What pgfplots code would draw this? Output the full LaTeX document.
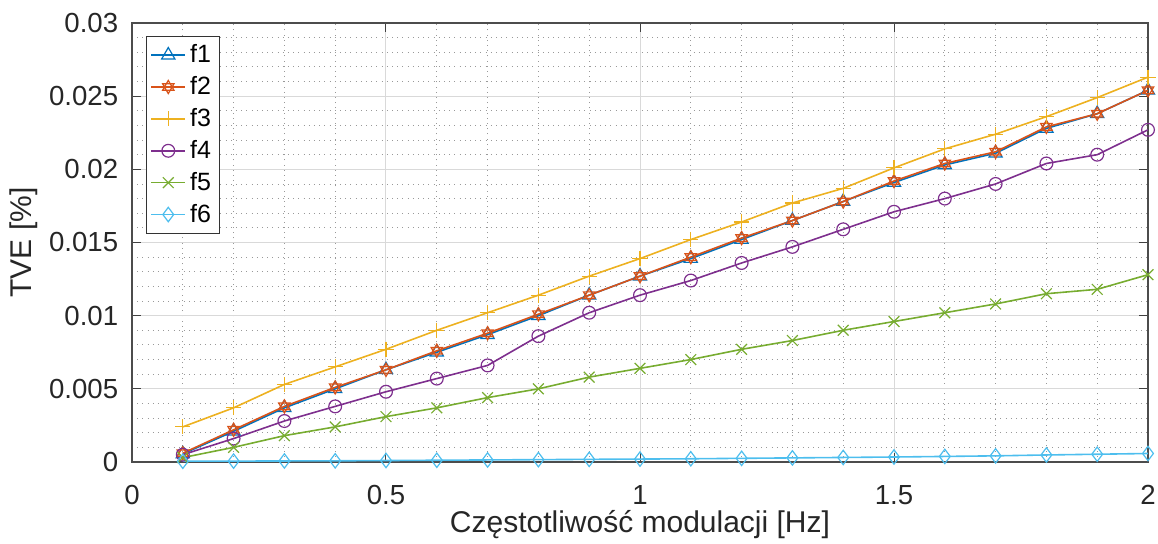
\documentclass[border=0pt]{standalone}
\usepackage{fontspec}
\setmainfont{Liberation Sans}
\usepackage{pgfplots}
\pgfplotsset{compat=1.18}

\definecolor{mblue}{rgb}{0,0.447,0.741}
\definecolor{morange}{rgb}{0.85,0.325,0.098}
\definecolor{myellow}{rgb}{0.929,0.694,0.125}
\definecolor{mpurple}{rgb}{0.494,0.184,0.556}
\definecolor{mgreen}{rgb}{0.466,0.674,0.188}
\definecolor{mcyan}{rgb}{0.301,0.745,0.933}

% hexagram mark (two triangles)
\pgfdeclareplotmark{hexagram}{%
  \pgfpathmoveto{\pgfqpointpolar{90}{\pgfplotmarksize}}%
  \pgfpathlineto{\pgfqpointpolar{210}{\pgfplotmarksize}}%
  \pgfpathlineto{\pgfqpointpolar{330}{\pgfplotmarksize}}%
  \pgfpathclose
  \pgfpathmoveto{\pgfqpointpolar{270}{\pgfplotmarksize}}%
  \pgfpathlineto{\pgfqpointpolar{30}{\pgfplotmarksize}}%
  \pgfpathlineto{\pgfqpointpolar{150}{\pgfplotmarksize}}%
  \pgfpathclose
  \pgfusepathqstroke}

\pgfplotstableread{
x     f1      f2      f3      f4      f5      f6
0.1   0.00055 0.0006  0.0024  0.0005  0.0003  0.00005
0.2   0.0021  0.0022  0.0037  0.0016  0.0010  0.00006
0.3   0.0037  0.0038  0.0053  0.0028  0.0018  0.00007
0.4   0.0050  0.0051  0.0065  0.0038  0.0024  0.00008
0.5   0.0063  0.0063  0.0077  0.0048  0.0031  0.00010
0.6   0.0075  0.0076  0.0090  0.0057  0.0037  0.00012
0.7   0.0087  0.0088  0.0102  0.0066  0.0044  0.00014
0.8   0.0100  0.0101  0.0114  0.0086  0.0050  0.00016
0.9   0.0114  0.0114  0.0127  0.0102  0.0058  0.00018
1.0   0.0127  0.0127  0.0139  0.0114  0.0064  0.00020
1.1   0.0139  0.0140  0.0152  0.0124  0.0070  0.00022
1.2   0.0152  0.0153  0.0164  0.0136  0.0077  0.00025
1.3   0.0165  0.0165  0.0177  0.0147  0.0083  0.00028
1.4   0.0178  0.0178  0.0187  0.0159  0.0090  0.00031
1.5   0.0191  0.0192  0.0201  0.0171  0.0096  0.00034
1.6   0.0203  0.0204  0.0214  0.0180  0.0102  0.00038
1.7   0.0211  0.0212  0.0224  0.0190  0.0108  0.00042
1.8   0.0228  0.0229  0.0236  0.0204  0.0115  0.00048
1.9   0.0238  0.0238  0.0249  0.0210  0.0118  0.00053
2.0   0.0254  0.0254  0.0263  0.0227  0.0128  0.00058
}\tvedata

\begin{document}
\begin{tikzpicture}
  \begin{axis}[
    scale only axis,
    width=508pt, height=219.5pt,
    xmin=0, xmax=2, ymin=0, ymax=0.03,
    xtick={0,0.5,1,1.5,2},
    ytick={0,0.005,0.01,0.015,0.02,0.025,0.03},
    minor x tick num=4,
    minor y tick num=4,
    scaled y ticks=false,
    yticklabel style={/pgf/number format/fixed,/pgf/number format/precision=3, xshift=-3.4pt},
    xticklabel style={yshift=-8pt},
    /pgf/number format/assume math mode=true,
    tick label style={font=\fontsize{13.8}{15}\selectfont, text=black!85},
    label style={font=\fontsize{15}{17}\selectfont, text=black!85},
    xlabel={Częstotliwość modulacji [Hz]},
    ylabel={TVE [\%]},
    xlabel style={at={(axis description cs:0.5,0)}, anchor=base, yshift=-35.5pt},
    ylabel style={at={(axis description cs:-0.1063,0.5)}, anchor=center, rotate=0},
    tick align=inside,
    major tick length=4.5pt,
    minor tick length=0pt,
    axis line style={black!70, line width=0.7pt},
    every tick/.style={black!75, line width=0.5pt},
    grid=both,
    major grid style={black!15, line width=0.5pt},
    minor grid style={black!40, dash pattern=on 0.5pt off 2.1pt, line width=0.45pt},
    legend style={at={(axis description cs:0.0138,0.970)}, anchor=north west, draw=black!80,
      font=\fontsize{12.5}{14}\selectfont, row sep=1.4pt, inner sep=2pt,
      cells={anchor=west}},
    legend cell align=left,
    every axis plot/.append style={line width=0.8pt, mark size=3.2pt,
      mark options={solid, line width=0.6pt}},
  ]
    \addplot[mblue, mark=triangle, mark size=3.8pt] table[x=x,y=f1] {\tvedata};
    \addlegendentry{f1}
    \addplot[morange, mark=hexagram, mark size=3.3pt] table[x=x,y=f2] {\tvedata};
    \addlegendentry{f2}
    \addplot[myellow, mark=+, mark size=3.8pt] table[x=x,y=f3] {\tvedata};
    \addlegendentry{f3}
    \addplot[mpurple, mark=o] table[x=x,y=f4] {\tvedata};
    \addlegendentry{f4}
    \addplot[mgreen, mark=x, mark size=3.8pt] table[x=x,y=f5] {\tvedata};
    \addlegendentry{f5}
    \addplot[mcyan, mark=diamond, mark size=3.6pt] table[x=x,y=f6] {\tvedata};
    \addlegendentry{f6}
  \end{axis}
  \pgfresetboundingbox
  \path[use as bounding box] ([shift={(-66pt,-41pt)}]current axis.south west)
    rectangle ([shift={(5pt,11.5pt)}]current axis.north east);
\end{tikzpicture}
\end{document}
